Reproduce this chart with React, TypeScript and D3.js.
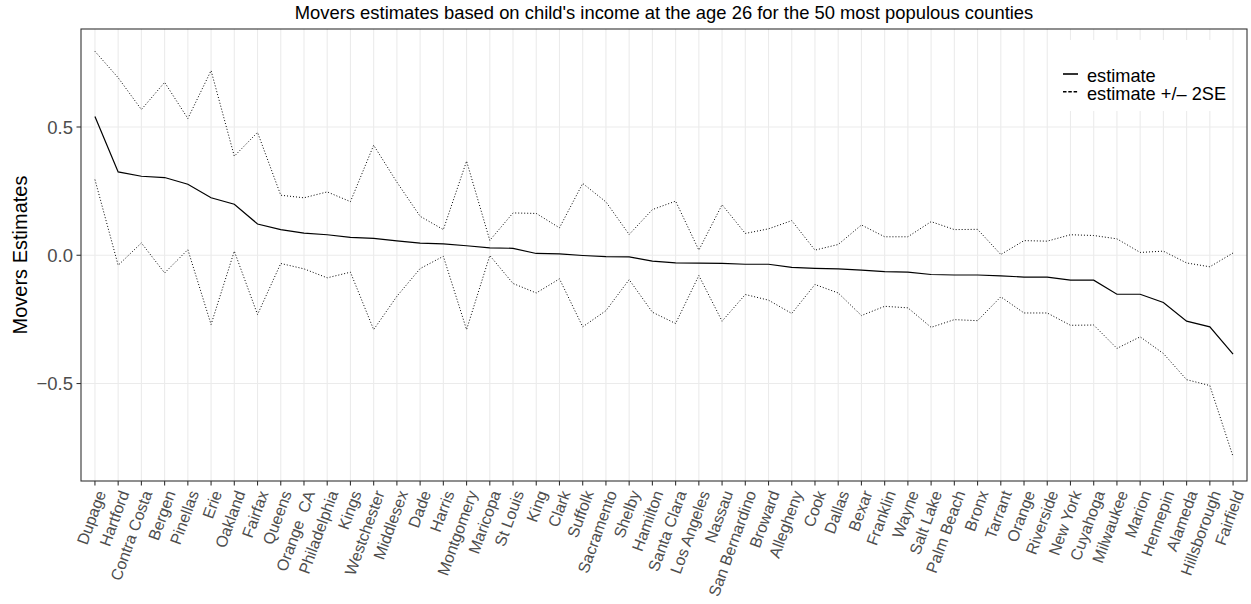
import React from "react";
import * as d3 from "d3";

const counties = ["Dupage","Hartford","Contra Costa","Bergen","Pinellas","Erie","Oakland","Fairfax","Queens","Orange  CA","Philadelphia","Kings","Westchester","Middlesex","Dade","Harris","Montgomery","Maricopa","St Louis","King","Clark","Suffolk","Sacramento","Shelby","Hamilton","Santa Clara","Los Angeles","Nassau","San Bernardino","Broward","Allegheny","Cook","Dallas","Bexar","Franklin","Wayne","Salt Lake","Palm Beach","Bronx","Tarrant","Orange","Riverside","New York","Cuyahoga","Milwaukee","Marion","Hennepin","Alameda","Hillsborough","Fairfield"];

const estimate = [0.541,0.325,0.308,0.303,0.277,0.224,0.199,0.122,0.100,0.086,0.080,0.070,0.066,0.056,0.047,0.044,0.037,0.029,0.027,0.007,0.005,-0.001,-0.005,-0.006,-0.023,-0.030,-0.031,-0.032,-0.035,-0.035,-0.047,-0.051,-0.053,-0.058,-0.064,-0.066,-0.075,-0.077,-0.077,-0.080,-0.085,-0.085,-0.097,-0.097,-0.152,-0.152,-0.184,-0.257,-0.279,-0.385];

const upper = [0.795,0.692,0.568,0.674,0.533,0.720,0.386,0.479,0.234,0.224,0.247,0.209,0.429,0.285,0.152,0.100,0.367,0.058,0.165,0.163,0.107,0.280,0.208,0.081,0.178,0.211,0.020,0.197,0.085,0.103,0.135,0.020,0.042,0.118,0.072,0.072,0.131,0.100,0.101,0.003,0.057,0.055,0.080,0.077,0.064,0.011,0.016,-0.030,-0.045,0.009];

const lower = [0.295,-0.039,0.048,-0.069,0.022,-0.270,0.016,-0.231,-0.032,-0.053,-0.088,-0.066,-0.290,-0.160,-0.052,-0.004,-0.290,-0.001,-0.110,-0.147,-0.092,-0.279,-0.216,-0.095,-0.222,-0.266,-0.079,-0.257,-0.153,-0.175,-0.227,-0.114,-0.147,-0.235,-0.199,-0.205,-0.281,-0.251,-0.255,-0.162,-0.225,-0.225,-0.273,-0.272,-0.363,-0.318,-0.383,-0.485,-0.508,-0.785];

const yTicks = [-0.5, 0, 0.5];
const yTickLabels = ["\u22120.5", "0.0", "0.5"];
const legendLabels = ["estimate", "estimate +/\u2013 2SE"];
const title = "Movers estimates based on child's income at the age 26 for the 50 most populous counties";
const yTitle = "Movers Estimates";

const W = 1251, H = 604;
const P = { left: 81, right: 1247, top: 29, bottom: 481 };
const FONT = "'Liberation Sans', Arial, Helvetica, sans-serif";
const GRID = "#EBEBEB";
const TXT = "#4D4D4D";

export default function App() {
  const x = d3.scalePoint<string>().domain(counties).range([P.left, P.right]).padding(0.6);
  const y = d3.scaleLinear().domain([-0.880, 0.882]).range([P.bottom, P.top]);
  const line = d3.line<number>().x((_, i) => x(counties[i]) as number).y((d) => y(d));
  const angle = 70;
  const labelY = 489;

  return (
    <svg width={W} height={H} style={{ position: "absolute", left: 0, top: 0, background: "#fff" }} fontFamily={FONT}>
      <rect x={0} y={0} width={W} height={H} fill="#fff" />
      {/* grid */}
      {counties.map((c) => (
        <line key={"gv" + c} x1={x(c)} x2={x(c)} y1={P.top} y2={P.bottom} stroke={GRID} strokeWidth={1.1} />
      ))}
      {yTicks.map((t) => (
        <line key={"gh" + t} x1={P.left} x2={P.right} y1={y(t)} y2={y(t)} stroke={GRID} strokeWidth={1.1} />
      ))}
      {/* legend background */}
      <rect x={1052} y={40} width={180} height={71} fill="#fff" />
      {/* lines */}
      <path d={line(upper) || ""} fill="none" stroke="#000" strokeWidth={1} strokeDasharray="1 2" />
      <path d={line(lower) || ""} fill="none" stroke="#000" strokeWidth={1} strokeDasharray="1 2" />
      <path d={line(estimate) || ""} fill="none" stroke="#000" strokeWidth={1.2} />
      {/* panel border */}
      <rect x={P.left} y={P.top} width={P.right - P.left} height={P.bottom - P.top} fill="none" stroke="#333" strokeWidth={1.1} />
      {/* y axis ticks */}
      {yTicks.map((t, i) => (
        <g key={"yt" + t}>
          <line x1={P.left - 4.5} x2={P.left} y1={y(t)} y2={y(t)} stroke="#333" strokeWidth={1.1} />
          <text x={73} y={y(t)} dy="0.36em" textAnchor="end" fontSize={18.5} fill={TXT}>{yTickLabels[i]}</text>
        </g>
      ))}
      {/* x axis ticks */}
      {counties.map((c) => (
        <g key={"xt" + c}>
          <line x1={x(c)} x2={x(c)} y1={P.bottom} y2={P.bottom + 4.5} stroke="#333" strokeWidth={1.1} />
          <text
            transform={`translate(${x(c)},${labelY}) rotate(${-angle})`}
            textAnchor="end"
            dy="0.75em"
            fontSize={16}
            fill={TXT}
            style={{ whiteSpace: "pre" }}
          >{c}</text>
        </g>
      ))}
      {/* titles */}
      <text x={(P.left + P.right) / 2} y={19.3} textAnchor="middle" fontSize={18.4} fill="#000">{title}</text>
      <text transform={`translate(27.3,${(P.top + P.bottom) / 2}) rotate(-90)`} textAnchor="middle" fontSize={20} fill="#000">{yTitle}</text>
      {/* legend */}
      <line x1={1063} x2={1078} y1={74} y2={74} stroke="#000" strokeWidth={1.6} />
      <line x1={1063} x2={1078} y1={91.7} y2={91.7} stroke="#000" strokeWidth={1.4} strokeDasharray="3.5 1.8" />
      <text x={1087} y={82.3} fontSize={18.2} fill="#000">{legendLabels[0]}</text>
      <text x={1087} y={100} fontSize={18.2} fill="#000">{legendLabels[1]}</text>
    </svg>
  );
}
